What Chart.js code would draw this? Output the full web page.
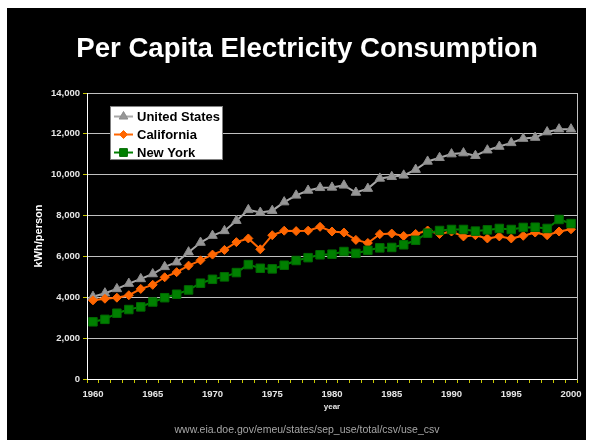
<!DOCTYPE html>
<html>
<head>
<meta charset="utf-8">
<script src="https://cdn.jsdelivr.net/npm/chart.js@4.4.1/dist/chart.umd.min.js"></script>
<style>
html,body{margin:0;padding:0;background:#fff;}
#wrap{position:relative;width:593px;height:446px;}
#bg{position:absolute;left:7px;top:8px;width:579px;height:432px;background:#000;}
#c{position:absolute;left:0;top:0;}
</style>
</head>
<body>
<div id="wrap"><div id="bg"></div><canvas id="c" width="593" height="446"></canvas></div>
<script>
const years = ['1960','1961','1962','1963','1964','1965','1966','1967','1968','1969',
  '1970','1971','1972','1973','1974','1975','1976','1977','1978','1979',
  '1980','1981','1982','1983','1984','1985','1986','1987','1988','1989',
  '1990','1991','1992','1993','1994','1995','1996','1997','1998','1999','2000'];

const unitedStates = [4030, 4200, 4410, 4670, 4900, 5140, 5490, 5720, 6210, 6680,
  7020, 7250, 7750, 8280, 8150, 8240, 8660, 8990, 9230, 9360,
  9380, 9480, 9130, 9320, 9820, 9900, 9970, 10250, 10650, 10830,
  11010, 11060, 10930, 11200, 11380, 11560, 11770, 11820, 12090, 12230, 12230];

const california = [3850, 3930, 3980, 4100, 4410, 4610, 4980, 5230, 5550, 5810,
  6090, 6320, 6700, 6880, 6350, 7040, 7260, 7240, 7260, 7450,
  7220, 7170, 6810, 6660, 7090, 7120, 7000, 7100, 7270, 7100,
  7220, 6980, 7040, 6880, 6980, 6880, 7010, 7170, 7040, 7220, 7330];

const newYork = [2800, 2920, 3220, 3400, 3530, 3770, 3980, 4150, 4360, 4690,
  4880, 5000, 5210, 5600, 5420, 5390, 5570, 5800, 5940, 6080,
  6110, 6240, 6150, 6300, 6420, 6440, 6570, 6790, 7140, 7270,
  7320, 7320, 7240, 7300, 7370, 7320, 7420, 7430, 7370, 7810, 7610];

const seriesNames = ['United States', 'California', 'New York'];
const yTicks = [0, 2000, 4000, 6000, 8000, 10000, 12000, 14000];
const titleText = 'Per Capita Electricity Consumption';
const yTitle = 'kWh/person';
const xTitle = 'year';
const sourceText = 'www.eia.doe.gov/emeu/states/sep_use/total/csv/use_csv';

const FONT = "'Liberation Sans', Arial, sans-serif";
Chart.defaults.font.family = FONT;

function fmt(v){ return String(v).replace(/\B(?=(\d{3})+(?!\d))/g, ','); }

const legendBox = {
  id: 'legendBox',
  afterDraw(chart) {
    const {ctx, chartArea} = chart;
    const x0 = chartArea.left + 23, y0 = chartArea.top + 13, w = 113, h = 54;
    ctx.save();
    ctx.fillStyle = '#ffffff';
    ctx.fillRect(x0, y0, w, h);
    ctx.strokeStyle = '#7f7f7f';
    ctx.lineWidth = 1;
    ctx.strokeRect(x0 + 0.5, y0 + 0.5, w - 1, h - 1);
    const rows = [10.5, 28.5, 46.5];
    chart.data.datasets.forEach((d, i) => {
      const y = y0 + rows[i];
      ctx.strokeStyle = d.borderColor;
      ctx.lineWidth = 2;
      ctx.beginPath();
      ctx.moveTo(x0 + 4, y);
      ctx.lineTo(x0 + 23, y);
      ctx.stroke();
      ctx.fillStyle = d.pointBackgroundColor;
      ctx.strokeStyle = d.pointBorderColor;
      ctx.lineWidth = 1;
      Chart.helpers.drawPoint(ctx, {pointStyle: d.pointStyle, radius: d.pointRadius - 0.5, borderWidth: 1, rotation: 0}, x0 + 13.5, y);
      ctx.fillStyle = '#000000';
      ctx.font = 'bold 13px ' + FONT;
      ctx.textBaseline = 'middle';
      ctx.textAlign = 'left';
      ctx.fillText(d.label, x0 + 27, y + 0.5);
    });
    ctx.restore();
  }
};

new Chart(document.getElementById('c'), {
  type: 'line',
  data: {
    labels: years,
    datasets: [
      {label: seriesNames[0], data: unitedStates, order: 2,
       borderColor: '#a8a8a8', borderWidth: 2,
       pointStyle: 'triangle', pointRadius: 5.5,
       pointBackgroundColor: '#969696', pointBorderColor: '#8c8c8c', pointBorderWidth: 1},
      {label: seriesNames[1], data: california, order: 1,
       borderColor: '#ff6600', borderWidth: 2,
       pointStyle: 'rectRot', pointRadius: 4.5,
       pointBackgroundColor: '#ff6600', pointBorderColor: '#ff6600', pointBorderWidth: 1},
      {label: seriesNames[2], data: newYork, order: 0,
       borderColor: '#008000', borderWidth: 2,
       pointStyle: 'rect', pointRadius: 6,
       pointBackgroundColor: '#008000', pointBorderColor: '#006a00', pointBorderWidth: 1}
    ]
  },
  options: {
    responsive: false,
    animation: false,
    devicePixelRatio: 1,
    layout: {padding: {top: 8, left: 28, right: 7, bottom: 0}},
    plugins: {
      legend: {display: false},
      tooltip: {enabled: false},
      title: {display: true, text: titleText, color: '#ffffff',
        font: {size: 27.6, weight: 'bold'}, padding: {top: 24.4, bottom: 27.5}},
      subtitle: {display: true, position: 'bottom', text: sourceText, color: '#a6a6a6',
        font: {size: 10.5, weight: 'normal'}, padding: {top: 0.7, bottom: 9.7}}
    },
    scales: {
      x: {
        type: 'category',
        offset: true,
        grid: {display: true, drawOnChartArea: false, drawTicks: true, offset: true,
          tickLength: 4, tickColor: '#c8c800', tickWidth: 1},
        border: {display: true, color: '#ffffff', width: 1},
        ticks: {autoSkip: false, maxRotation: 0, minRotation: 0, padding: 6, color: '#e6e6e6',
          font: {size: 9.5, weight: 'bold'},
          callback: function(v) { const l = this.getLabelForValue(v); return Number(l) % 5 === 0 ? l : ''; }},
        title: {display: true, text: xTitle, color: '#e6e6e6', font: {size: 8, weight: 'bold'},
          padding: {top: 0, bottom: 11.2}},
        afterFit(s) { s.height = 44; s.paddingLeft = 0; s.paddingRight = 0; }
      },
      y: {
        min: 0, max: 14000,
        afterBuildTicks(s) { s.ticks = yTicks.map(v => ({value: v})); },
        ticks: {padding: 3, color: '#e6e6e6', font: {size: 9.5, weight: 'bold'}, callback: v => fmt(v)},
        grid: {color: '#c0c0c0', lineWidth: 1, tickLength: 4, tickColor: '#c8c800', drawTicks: true},
        border: {display: true, color: '#ffffff', width: 1},
        title: {display: true, text: yTitle, color: '#ffffff', font: {size: 11, weight: 'bold'},
          padding: {top: 4.4, bottom: 0}},
        afterFit(s) { s.width = 59; s.paddingTop = 0; s.paddingBottom = 0; }
      },
      y2: {
        position: 'right', display: true,
        grid: {drawOnChartArea: false, drawTicks: false},
        ticks: {display: false},
        border: {display: true, color: '#c0c0c0', width: 1},
        afterFit(s) { s.width = 9; s.paddingTop = 0; s.paddingBottom = 0; }
      }
    }
  },
  plugins: [legendBox]
});
</script>
</body>
</html>
